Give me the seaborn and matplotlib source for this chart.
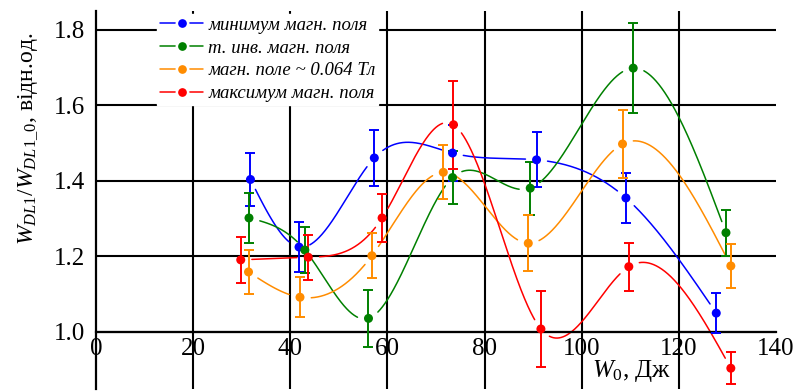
import numpy as np
import pandas as pd
import matplotlib
matplotlib.use("Agg")
import matplotlib.pyplot as plt
import seaborn as sns
from matplotlib.lines import Line2D
from matplotlib.ticker import MultipleLocator, FormatStrFormatter

# --- measured data: discharge energy ratio vs. stored energy W0 ---
labels = ["минимум магн. поля", "т. инв. магн. поля",
          "магн. поле ~ 0.064 Тл", "максимум магн. поля"]

w_min = [31.8, 41.8, 57.3, 73.4, 90.7, 109.1, 127.7]
r_min = [1.404, 1.225, 1.461, 1.474, 1.456, 1.355, 1.050]
e_min = [0.069, 0.067, 0.073, 0.075, 0.073, 0.067, 0.052]

w_inv = [31.5, 43.0, 56.1, 73.4, 89.4, 110.6, 129.7]
r_inv = [1.302, 1.217, 1.036, 1.409, 1.381, 1.699, 1.263]
e_inv = [0.065, 0.060, 0.075, 0.070, 0.070, 0.119, 0.061]

w_mid = [31.4, 42.0, 56.8, 71.5, 89.0, 108.4, 130.7]
r_mid = [1.159, 1.092, 1.202, 1.423, 1.235, 1.498, 1.175]
e_mid = [0.058, 0.053, 0.060, 0.071, 0.074, 0.090, 0.059]

w_max = [29.8, 43.7, 58.9, 73.6, 91.6, 109.7, 130.7]
r_max = [1.191, 1.198, 1.302, 1.549, 1.008, 1.173, 0.904]
e_max = [0.060, 0.059, 0.064, 0.116, 0.100, 0.064, 0.042]

colors = ["#0000ff", "#008000", "#ff8c00", "#ff0000"]

series = [(labels[0], w_min, r_min, e_min),
          (labels[1], w_inv, r_inv, e_inv),
          (labels[2], w_mid, r_mid, e_mid),
          (labels[3], w_max, r_max, e_max)]

sns.set_theme(style="white")
plt.rcParams.update({
    "font.family": ["Liberation Serif", "DejaVu Serif"],
    "mathtext.fontset": "custom",
    "mathtext.rm": "Liberation Serif",
    "mathtext.it": "Liberation Serif:italic",
    "mathtext.bf": "Liberation Serif:bold",
    "text.color": "black",
    "axes.labelcolor": "black",
    "xtick.color": "black",
    "ytick.color": "black",
    "axes.edgecolor": "black",
})


def natural_spline(x, y, xs):
    """Natural cubic spline through (x, y), evaluated at xs."""
    x = np.asarray(x, float)
    y = np.asarray(y, float)
    n = len(x)
    h = np.diff(x)
    A = np.zeros((n, n))
    rhs = np.zeros(n)
    A[0, 0] = A[-1, -1] = 1.0
    for i in range(1, n - 1):
        A[i, i - 1] = h[i - 1]
        A[i, i] = 2 * (h[i - 1] + h[i])
        A[i, i + 1] = h[i]
        rhs[i] = 3 * ((y[i + 1] - y[i]) / h[i] - (y[i] - y[i - 1]) / h[i - 1])
    c = np.linalg.solve(A, rhs)
    b = (y[1:] - y[:-1]) / h - h * (2 * c[:-1] + c[1:]) / 3
    d = (c[1:] - c[:-1]) / (3 * h)
    idx = np.clip(np.searchsorted(x, xs) - 1, 0, n - 2)
    t = xs - x[idx]
    return y[idx] + b[idx] * t + c[idx] * t ** 2 + d[idx] * t ** 3


fig = plt.figure(figsize=(7.96, 3.92), dpi=100)
ax = fig.add_axes([96 / 796, 1 - 388.6 / 392, 680 / 796, 377.5 / 392])
ax.set_xlim(0, 140)
ax.set_ylim(0.85, 1.85)

# spline curves, broken around each marker
gap_px = 11.0
seg_rows = []
seg_id = 0
for name, wx, ry, _ in series:
    xs = np.linspace(wx[0], wx[-1], 1500)
    ys = natural_spline(wx, ry, xs)
    disp = ax.transData.transform(np.column_stack([xs, ys]))
    mk = ax.transData.transform(np.column_stack([wx, ry]))
    dist = np.min(np.hypot(disp[:, None, 0] - mk[None, :, 0],
                           disp[:, None, 1] - mk[None, :, 1]), axis=1)
    keep = dist > gap_px
    prev = False
    for xv, yv, k in zip(xs, ys, keep):
        if k:
            if not prev:
                seg_id += 1
            seg_rows.append({"W0": xv, "ratio": yv, "series": name, "seg": seg_id})
        prev = k
curves = pd.DataFrame(seg_rows)

palette = dict(zip(labels, colors))
sns.lineplot(data=curves, x="W0", y="ratio", hue="series", units="seg",
             estimator=None, sort=False, palette=palette, linewidth=1.1,
             legend=False, ax=ax, zorder=2)

points = pd.DataFrame([{"W0": x, "ratio": y, "err": e, "series": name}
                       for name, wx, ry, er in series
                       for x, y, e in zip(wx, ry, er)])

for name, col in zip(labels, colors):
    sub = points[points["series"] == name]
    ax.errorbar(sub["W0"], sub["ratio"], yerr=sub["err"], fmt="none",
                ecolor=col, elinewidth=1.4, capsize=3.6, capthick=1.4, zorder=3)
    sns.scatterplot(data=sub, x="W0", y="ratio", color=col, s=42,
                    linewidth=0, edgecolor="none", legend=False, ax=ax, zorder=4)

# axes styling
ax.set_axisbelow(True)
for side in ("top", "right"):
    ax.spines[side].set_visible(False)
ax.spines["bottom"].set_position(("data", 1.0))
ax.spines["bottom"].set_linewidth(1.6)
ax.spines["left"].set_linewidth(1.6)

ax.xaxis.set_major_locator(MultipleLocator(20))
ax.xaxis.set_minor_locator(MultipleLocator(10))
ax.yaxis.set_major_locator(MultipleLocator(0.2))
ax.yaxis.set_minor_locator(MultipleLocator(0.05))
ax.yaxis.set_major_formatter(FormatStrFormatter("%.1f"))

ax.tick_params(which="both", direction="in", width=1.3, labelsize=18)
ax.tick_params(which="major", length=3.8)
ax.tick_params(which="minor", length=3.0)
ax.tick_params(axis="y", which="major", pad=8)
ax.tick_params(axis="x", which="major", pad=4)

ax.grid(which="major", color="black", linewidth=1.5)
fig.canvas.draw()
for tick, loc in zip(ax.xaxis.get_major_ticks(), ax.xaxis.get_majorticklocs()):
    if loc <= 0 or loc >= 140:
        tick.gridline.set_visible(False)

ax.set_xlabel(r"$W_0$, Дж", fontsize=18)
ax.xaxis.set_label_coords(0.788, 0.08)
ax.set_ylabel(r"$W_{DL1}/W_{DL1\_0}$, відн.од.", fontsize=17)
ax.yaxis.set_label_coords(-0.082, 0.6625)

# legend keys: line broken around the marker by a white marker rim
handles = [Line2D([], [], color=c, linewidth=1.1, marker="o", markersize=8.15,
                  markerfacecolor=c, markeredgecolor="white", markeredgewidth=1.85)
           for c in colors]
leg = ax.legend(handles, labels, loc="upper left", bbox_to_anchor=(0.090, 0.9926),
                borderaxespad=0, frameon=True, fancybox=False, framealpha=1,
                facecolor="white", edgecolor="white", handlelength=2.3,
                handletextpad=0.27, labelspacing=0.3, borderpad=0.15,
                prop={"family": "Liberation Serif", "style": "italic", "size": 13.5})
leg.set_zorder(6)

fig.savefig("out.png", dpi=100)
